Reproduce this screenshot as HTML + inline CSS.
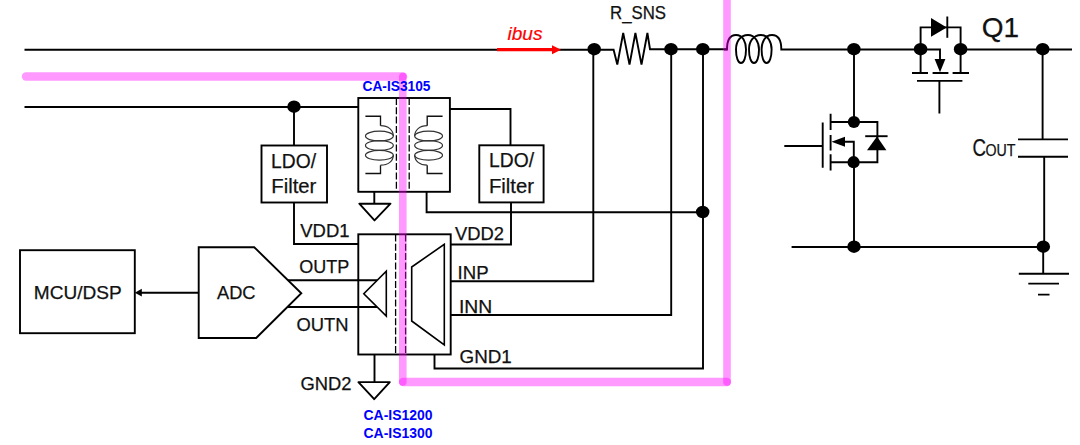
<!DOCTYPE html>
<html lang="en"><head><meta charset="utf-8"><title>Current sense isolation diagram</title>
<style>
html,body{margin:0;padding:0;background:#fff;}
body{width:1080px;height:445px;overflow:hidden;font-family:"Liberation Sans",sans-serif;}
svg{display:block;}
</style></head><body>
<svg width="1080" height="445" viewBox="0 0 1080 445">
<rect width="1080" height="445" fill="#fff"/>
<g fill="none" stroke="#000" stroke-width="1.9" stroke-linecap="butt" stroke-linejoin="miter">
<path d="M24.5 49.7H613.6L617.3 64.6L623.2 33L629.5 64.6L635.4 33L641.5 64.6L647.4 33L650 49.2H727"/>
<path d="M724 49.5H727C727 40 730 35 736 35C743 35 746 42 746 49.5C746 57 744 63 741 63C738 63 736 57 736 49.5C736 42 740 35 748 35C755 35 759 42 759 49.5C759 57 757 63 754 63C751 63 749 57 749 49.5C749 42 753 35 761 35C768 35 771.6 42 771.6 49.5C771.6 57 769.6 63 766.6 63C763.6 63 761.6 57 761.6 49.5C761.6 42 765 35 772 35C778 35 781.3 40 781.3 49.5H920.6M960.6 49.5H1072"/>
<path d="M24.5 107H358"/>
<path d="M294 107V145.5"/>
<rect x="261.5" y="145.5" width="65.5" height="57"/>
<path d="M294 202.5V244H359"/>
<rect x="358.3" y="98" width="91.6" height="93.8"/>
<path d="M450 109H510.5V145.3"/>
<rect x="479.3" y="145.3" width="64.3" height="57.1"/>
<path d="M511 202.4V244.5H451"/>
<path d="M374.3 191.8V203.7M359.3 203.7H390.5L374.5 220.4Z" stroke-linejoin="round"/>
<path d="M426.6 191.6V212.3H702.7"/>
<rect x="358.3" y="234.3" width="92.4" height="120.2"/>
<path d="M374.5 354.5V382.1M358.4 382.1H389.8L374.2 399.2Z" stroke-linejoin="round"/>
<path d="M434.5 354.5V368.5H703V49.5"/>
<path d="M451 315H671.2V49.5"/>
<path d="M451 281.2H593.3V49.5"/>
<path d="M386.3 271.3V316L363.8 293.7Z" stroke-width="1.6"/>
<path d="M444.3 244.3V345L411.7 321V267Z" stroke-width="1.6"/>
<path d="M288 280.3H377M288 307H377"/>
<path d="M198.7 247.2H254.2L301.3 293.2L256.2 338H198.7Z"/>
<rect x="20" y="250.2" width="114.8" height="83"/>
<path d="M198.7 292.7H140"/>
<path d="M920.6 49.5V27.4H960.6V49.5"/>
<path d="M947.3 16.5V37.8"/>
<path d="M920.6 49.5V73M960.6 49.5V73M912 73H928M932.6 73H948.4M952.6 73H969M917 80.9H962.4M939.4 80.9V113.4"/>
<path d="M920.6 49.5H940V62"/>
<path d="M854 49.5V122M854 162V247"/>
<path d="M784.3 146H822.7M822.7 122.6V167.8M830.6 113.8V130M830.6 135V150.5M830.6 154.2V170.4"/>
<path d="M830.6 122H877.4V162.3H830.6"/>
<path d="M865.2 136.2H887.6"/>
<path d="M843 141.8H853.8V162"/>
<path d="M1042.6 49.5V139.4M1018 139.4H1068M1018 156.8H1068M1044.2 156.8V247"/>
<path d="M791.6 247H1043.2V273.8M1018.8 273.8H1069M1028.3 283.6H1059M1038 294.6H1049.5"/>
</g>
<g fill="none" stroke="#000" stroke-width="1.3" stroke-dasharray="7 2.3">
<path d="M396.4 98V191.6M409.2 98V191.6"/>
<path d="M395.6 234.5V354.5M405.6 234.5V354.5"/>
</g>
<g fill="none" stroke="#333" stroke-width="1.2">
<path d="M365.4 116.2H380.5V125.7" stroke="#111" stroke-width="1.35"/><path d="M365.4 173.5H380.5V165.2" stroke="#111" stroke-width="1.35"/><ellipse cx="379.4" cy="136.1" rx="13.9" ry="4.9"/><ellipse cx="379.4" cy="145.5" rx="13.9" ry="4.9"/><ellipse cx="379.4" cy="155.3" rx="13.9" ry="4.9"/><path d="M380.5 125.7C388.4 125.7 393.29999999999995 130 393.29999999999995 136.1"/><path d="M380.5 165.2C388.4 165.2 393.29999999999995 161 393.29999999999995 155.3"/>
<path d="M442.6 116.2H427.2V125.7" stroke="#111" stroke-width="1.35"/><path d="M442.6 173.5H427.2V165.2" stroke="#111" stroke-width="1.35"/><ellipse cx="428.6" cy="136.1" rx="13.9" ry="4.9"/><ellipse cx="428.6" cy="145.5" rx="13.9" ry="4.9"/><ellipse cx="428.6" cy="155.3" rx="13.9" ry="4.9"/><path d="M427.2 125.7C419.6 125.7 414.70000000000005 130 414.70000000000005 136.1"/><path d="M427.2 165.2C419.6 165.2 414.70000000000005 161 414.70000000000005 155.3"/>
</g>
<g fill="#000" stroke="none">
<ellipse cx="594.2" cy="49.2" rx="6.75" ry="6.2"/>
<ellipse cx="671" cy="49.2" rx="6.75" ry="6.2"/>
<ellipse cx="702.8" cy="49.2" rx="6.75" ry="6.2"/>
<ellipse cx="294" cy="106.7" rx="6.75" ry="6.2"/>
<ellipse cx="702.7" cy="212.0" rx="6.75" ry="6.2"/>
<ellipse cx="853.9" cy="49.2" rx="6.75" ry="6.2"/>
<ellipse cx="920.6" cy="49.2" rx="6.75" ry="6.2"/>
<ellipse cx="960.6" cy="49.2" rx="6.75" ry="6.2"/>
<ellipse cx="1042.7" cy="49.2" rx="6.75" ry="6.2"/>
<ellipse cx="854" cy="246.7" rx="6.75" ry="6.2"/>
<ellipse cx="1043.3" cy="246.7" rx="6.75" ry="6.2"/>
<circle cx="853.9" cy="122" r="6.1"/><circle cx="853.6" cy="162.2" r="6.1"/>
<path d="M134.8 292.7L141.8 288.8V296.6Z"/>
<path d="M931 18V36.8L946.8 27.4Z"/>
<path d="M934.6 59H945.4L940 72.2Z"/>
<path d="M831.5 141.8L845 136.8V146.8Z"/>
<path d="M877 136.4L886.4 150.3H867Z"/>
</g>
<path d="M497 49.7H553" stroke="#ff0000" stroke-width="3.2" fill="none"/>
<path d="M552 45.2L561 49.7L552 54.2Z" fill="#ff0000"/>
<g fill="none" stroke="#ff00ff" stroke-opacity="0.4" stroke-width="8.4" stroke-linecap="round">
<path d="M26 76.5H403"/>
<path d="M402.8 76.5V382" stroke-width="7.6"/>
<path d="M403 382H727"/>
</g>
<path d="M727 0V382" fill="none" stroke="#ff00ff" stroke-opacity="0.4" stroke-width="7.6" stroke-linecap="round"/>
<g font-family="'Liberation Sans', sans-serif" fill="#111">
<text x="507.5" y="40" font-size="18.5" textLength="35" lengthAdjust="spacingAndGlyphs" fill="#ff0000" font-style="italic" stroke="#ff0000" stroke-width="0.2">ibus</text>
<text x="610" y="18.5" font-size="18" textLength="56" lengthAdjust="spacingAndGlyphs"  stroke="#111" stroke-width="0.25">R_SNS</text>
<text x="981.8" y="37.3" font-size="28.3" textLength="37.3" lengthAdjust="spacingAndGlyphs"  stroke="#111" stroke-width="0.25">Q1</text>
<text x="362.5" y="90.5" font-size="14.4" textLength="68" lengthAdjust="spacingAndGlyphs" fill="#0000ff" font-weight="bold">CA-IS3105</text>
<text x="271" y="167.5" font-size="19.8" textLength="45" lengthAdjust="spacingAndGlyphs"  stroke="#111" stroke-width="0.25">LDO/</text>
<text x="271.3" y="192.6" font-size="19.8" textLength="45" lengthAdjust="spacingAndGlyphs"  stroke="#111" stroke-width="0.25">Filter</text>
<text x="489" y="167.4" font-size="19.8" textLength="45" lengthAdjust="spacingAndGlyphs"  stroke="#111" stroke-width="0.25">LDO/</text>
<text x="489" y="192.6" font-size="19.8" textLength="45" lengthAdjust="spacingAndGlyphs"  stroke="#111" stroke-width="0.25">Filter</text>
<text x="300.3" y="236.8" font-size="18.6" textLength="49.3" lengthAdjust="spacingAndGlyphs"  stroke="#111" stroke-width="0.25">VDD1</text>
<text x="455" y="240.2" font-size="18.8" textLength="49" lengthAdjust="spacingAndGlyphs"  stroke="#111" stroke-width="0.25">VDD2</text>
<text x="299.3" y="273.2" font-size="18.4" textLength="50" lengthAdjust="spacingAndGlyphs"  stroke="#111" stroke-width="0.25">OUTP</text>
<text x="296.5" y="330.6" font-size="18.4" textLength="52" lengthAdjust="spacingAndGlyphs"  stroke="#111" stroke-width="0.25">OUTN</text>
<text x="457.6" y="278.6" font-size="19" textLength="31" lengthAdjust="spacingAndGlyphs"  stroke="#111" stroke-width="0.25">INP</text>
<text x="459" y="312.9" font-size="18.8" textLength="33.3" lengthAdjust="spacingAndGlyphs"  stroke="#111" stroke-width="0.25">INN</text>
<text x="459.5" y="362.9" font-size="18.8" textLength="52.3" lengthAdjust="spacingAndGlyphs"  stroke="#111" stroke-width="0.25">GND1</text>
<text x="300.5" y="390.2" font-size="18.4" textLength="51" lengthAdjust="spacingAndGlyphs"  stroke="#111" stroke-width="0.25">GND2</text>
<text x="33.8" y="298.6" font-size="19" textLength="88" lengthAdjust="spacingAndGlyphs"  stroke="#111" stroke-width="0.25">MCU/DSP</text>
<text x="217" y="299" font-size="19" textLength="38.5" lengthAdjust="spacingAndGlyphs"  stroke="#111" stroke-width="0.25">ADC</text>
<text x="363.5" y="419.8" font-size="14.4" textLength="69" lengthAdjust="spacingAndGlyphs" fill="#0000ff" font-weight="bold">CA-IS1200</text>
<text x="363.5" y="438.4" font-size="14.4" textLength="69" lengthAdjust="spacingAndGlyphs" fill="#0000ff" font-weight="bold">CA-IS1300</text>
<text y="156.1" stroke="#111" stroke-width="0.25"><tspan x="972.5" font-size="23" textLength="13.5" lengthAdjust="spacingAndGlyphs">C</tspan><tspan x="985.5" font-size="15.8" textLength="30" lengthAdjust="spacingAndGlyphs">OUT</tspan></text>
</g>
</svg>
</body></html>
